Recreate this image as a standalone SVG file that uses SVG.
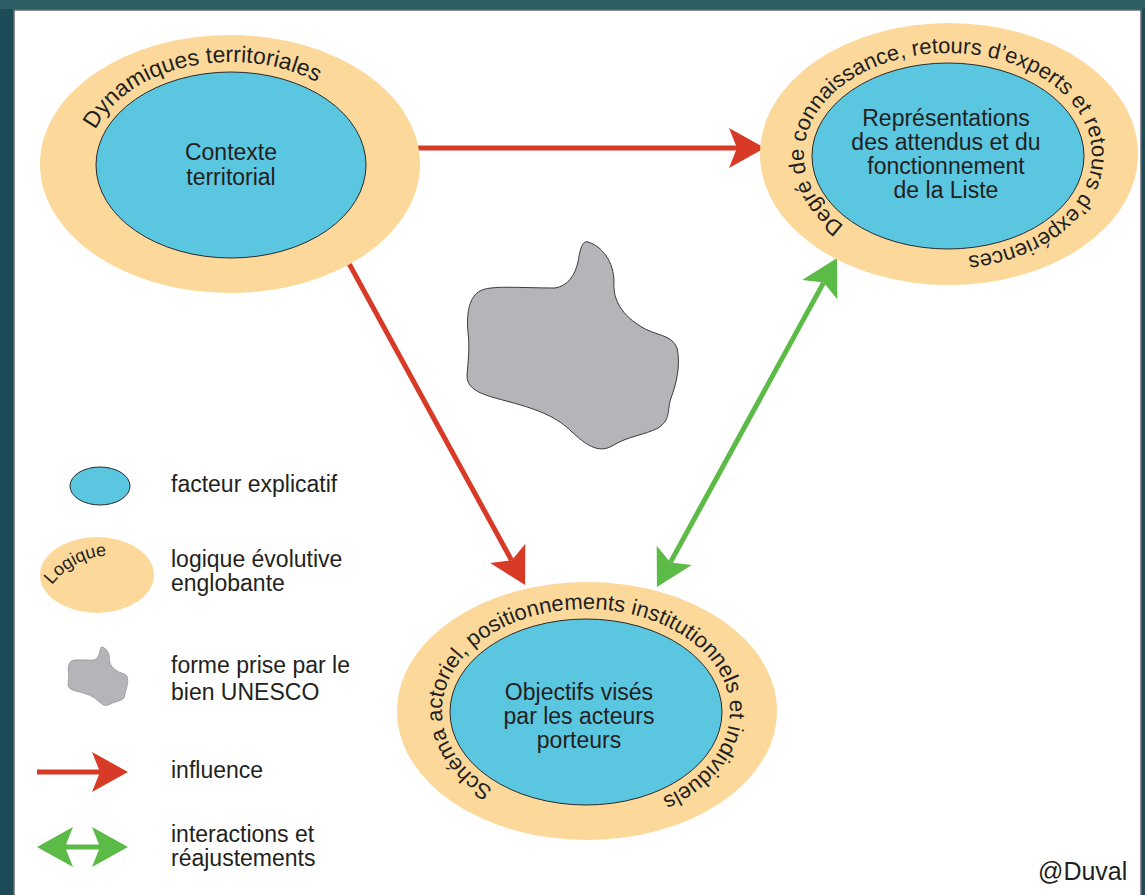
<svg xmlns="http://www.w3.org/2000/svg" xmlns:xlink="http://www.w3.org/1999/xlink" width="1145" height="895" viewBox="0 0 1145 895">
<style>
.outer{fill:#fcd99b;stroke:none}
.inner{fill:#5bc6e0;stroke:#2a2a2a;stroke-width:1}
.t{font-family:"Liberation Sans",Arial,sans-serif;font-size:22px;fill:#231f20}
.c{font-kerning:none}
.ct{text-anchor:middle;font-size:23px}
.leg{font-size:23px}
.blob{fill:#b4b5b9;stroke:#3a3a3a;stroke-width:1;vector-effect:non-scaling-stroke}
.red{stroke:#d73b27;stroke-width:5;fill:none}
.green{stroke:#5cba47;stroke-width:5;fill:none}
</style>
<defs>
<marker id="hr" viewBox="-38 -22 40 44" refX="-28" refY="0" markerWidth="40" markerHeight="44" markerUnits="userSpaceOnUse" orient="auto-start-reverse">
<path d="M0,0 L-36,-20 L-28,0 L-36,20 Z" fill="#d73b27"/>
</marker>
<marker id="hg" viewBox="-38 -22 40 44" refX="-28" refY="0" markerWidth="40" markerHeight="44" markerUnits="userSpaceOnUse" orient="auto-start-reverse">
<path d="M0,0 L-36,-20 L-28,0 L-36,20 Z" fill="#5cba47"/>
</marker>
<path id="blobShape" d="M588,242 C602,246 614,262 614,282 C613,296 618,312 640,326 C655,336 672,334 677,348 C681,365 676,385 671,398 C667,410 671,420 658,428 C645,435 628,436 612,446 C598,454 585,444 572,432 C558,418 540,410 510,402 C488,396 467,392 467,376 C468,362 470,348 468,332 C466,312 470,296 480,291 C490,285 520,288 555,288 C568,286 575,275 578,262 C580,250 582,240 588,242 Z"/>
<path id="p1" d="M231,266 A144,102 0 0 1 231,62 A144,102 0 0 1 231,266"/>
<path id="p2" d="M948,257 A144,102 0 0 1 948,53 A144,102 0 0 1 948,257"/>
<path id="p3" d="M586,813 A144,102 0 0 1 586,609 A144,102 0 0 1 586,813"/>
<path id="pl" d="M52,585 A75,75 0 0 1 122,556"/>
</defs>

<rect x="0" y="0" width="1145" height="895" fill="#1d4b58"/>
<rect x="0" y="0" width="1145" height="9" fill="#2c6066"/>
<rect x="14" y="10" width="1127" height="890" fill="#ffffff" stroke="#6b6b6b" stroke-width="1.5"/>

<g id="node-unesco">
<use xlink:href="#blobShape" href="#blobShape" class="blob"/>
</g>

<g id="connectors">
<line class="red" x1="378" y1="148" x2="737" y2="148" marker-end="url(#hr)"/>
<line class="red" x1="335" y1="238" x2="511.6" y2="560.4" marker-end="url(#hr)"/>
<line class="green" x1="670.4" y1="562.4" x2="823.6" y2="282.6" marker-start="url(#hg)" marker-end="url(#hg)"/>
</g>

<g id="node-contexte">
<ellipse class="outer" cx="230" cy="164" rx="190" ry="129"/>
<ellipse class="inner" cx="231" cy="165" rx="135" ry="93"/>
<text class="t c" style="font-size:23px"><textPath xlink:href="#p1" href="#p1" startOffset="354" text-anchor="middle">Dynamiques territoriales</textPath></text>
<text class="t ct" x="231" y="160">Contexte</text>
<text class="t ct" x="231" y="185">territorial</text>
</g>

<g id="node-representations">
<ellipse class="outer" cx="949" cy="154" rx="189" ry="131"/>
<ellipse class="inner" cx="948" cy="156" rx="136" ry="93"/>
<text class="t c"><textPath xlink:href="#p2" href="#p2" startOffset="110">Degré de conna</textPath></text>
<text class="t c"><textPath xlink:href="#p2" href="#p2" startOffset="266.5">issance, retours</textPath></text>
<text class="t c"><textPath xlink:href="#p2" href="#p2" startOffset="427.9">d’experts</textPath></text>
<text class="t c"><textPath xlink:href="#p2" href="#p2" startOffset="523.3">et retours d’ex</textPath></text>
<text class="t c"><textPath xlink:href="#p2" href="#p2" startOffset="662.6">périences</textPath></text>
<text class="t ct" x="946" y="126">Représentations</text>
<text class="t ct" x="946" y="150">des attendus et du</text>
<text class="t ct" x="946" y="174">fonctionnement</text>
<text class="t ct" x="946" y="198">de la Liste</text>
</g>

<g id="node-objectifs">
<ellipse class="outer" cx="587" cy="711" rx="190" ry="129"/>
<ellipse class="inner" cx="586" cy="712" rx="136" ry="93"/>
<text class="t c"><textPath xlink:href="#p3" href="#p3" startOffset="97">Schéma actoriel,</textPath></text>
<text class="t c"><textPath xlink:href="#p3" href="#p3" startOffset="267">positionnements institution</textPath></text>
<text class="t c"><textPath xlink:href="#p3" href="#p3" startOffset="526.1">nels et individuels</textPath></text>
<text class="t ct" x="579" y="700">Objectifs visés</text>
<text class="t ct" x="579" y="724">par les acteurs</text>
<text class="t ct" x="579" y="748">porteurs</text>
</g>

<g id="legend">
<g id="legend-facteur">
<ellipse class="inner" cx="100" cy="486" rx="30" ry="19"/>
<text class="t leg" x="171" y="492">facteur explicatif</text>
</g>
<g id="legend-logique">
<ellipse class="outer" cx="97" cy="575" rx="57" ry="38"/>
<text class="t" style="font-size:18px"><textPath xlink:href="#pl" href="#pl" startOffset="0">Logique</textPath></text>
<text class="t leg" x="171" y="567">logique évolutive</text>
<text class="t leg" x="171" y="591">englobante</text>
</g>
<g id="legend-forme">
<use xlink:href="#blobShape" href="#blobShape" class="blob" transform="translate(68,647) scale(0.283) translate(-467,-242)"/>
<text class="t leg" x="171" y="673">forme prise par le</text>
<text class="t leg" x="171" y="700">bien UNESCO</text>
</g>
<g id="legend-influence">
<line class="red" x1="37" y1="772" x2="100" y2="772" marker-end="url(#hr)"/>
<text class="t leg" x="171" y="778">influence</text>
</g>
<g id="legend-interactions">
<line class="green" x1="65" y1="847" x2="100" y2="847" marker-start="url(#hg)" marker-end="url(#hg)"/>
<text class="t leg" x="171" y="842">interactions et</text>
<text class="t leg" x="171" y="866">réajustements</text>
</g>
</g>

<text class="t" x="1038" y="880" style="font-size:25px">@Duval</text>
</svg>
